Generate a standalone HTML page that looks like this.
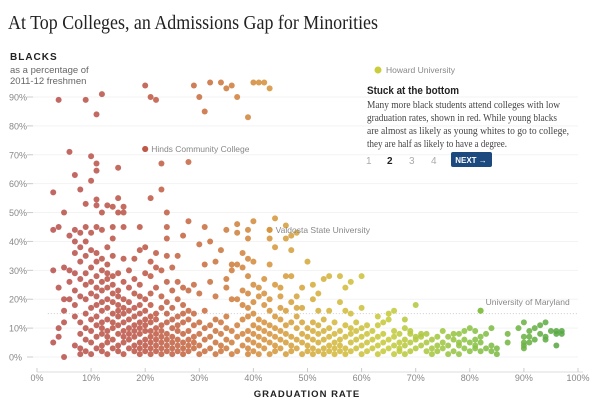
<!DOCTYPE html>
<html><head><meta charset="utf-8"><style>
body{margin:0;background:#fff;width:600px;height:415px;overflow:hidden;font-family:"Liberation Sans",sans-serif}
svg{position:absolute;left:0;top:0}
</style></head><body>
<svg width="600" height="415">
<text x="8" y="29" font-family="Liberation Serif,serif" font-size="20" textLength="370" lengthAdjust="spacingAndGlyphs" fill="#222">At Top Colleges, an Admissions Gap for Minorities</text>
<text x="10" y="60" font-size="10" font-weight="bold" letter-spacing="1" fill="#222">BLACKS</text>
<text x="10" y="73" font-size="9.5" fill="#666">as a percentage of</text>
<text x="10" y="84" font-size="9.5" fill="#666">2011-12 freshmen</text>
<g id="grid"></g><g id="dots"></g><g id="labels"></g>
<text x="307" y="397" text-anchor="middle" font-size="9.5" font-weight="bold" letter-spacing="1" fill="#222">GRADUATION RATE</text>
<circle cx="378" cy="70" r="3.5" fill="#c9cd3c"/>
<text x="386" y="73" font-size="8.5" fill="#888">Howard University</text>
<text x="367" y="94" font-size="11" font-weight="bold" textLength="92" lengthAdjust="spacingAndGlyphs" fill="#222">Stuck at the bottom</text>
<g font-family="Liberation Serif,serif" font-size="10.5" fill="#444" lengthAdjust="spacingAndGlyphs">
<text x="367" y="108" textLength="193" lengthAdjust="spacingAndGlyphs">Many more black students attend colleges with low</text>
<text x="367" y="121" textLength="190" lengthAdjust="spacingAndGlyphs">graduation rates, shown in red. While young blacks</text>
<text x="367" y="134" textLength="202" lengthAdjust="spacingAndGlyphs">are almost as likely as young whites to go to college,</text>
<text x="367" y="147" textLength="140" lengthAdjust="spacingAndGlyphs">they are half as likely to have a degree.</text></g>
<text x="366" y="164" font-size="10" fill="#aaa">1</text>
<text x="387" y="164" font-size="10" font-weight="bold" fill="#222">2</text>
<text x="409" y="164" font-size="10" fill="#aaa">3</text>
<text x="431" y="164" font-size="10" fill="#aaa">4</text>
<g><rect x="451" y="152" width="41" height="15" rx="2" fill="#1c4a7e"/>
<text x="471" y="163" text-anchor="middle" font-size="8" font-weight="bold" fill="#fff">NEXT →</text></g>
</svg>
<script>
const yTicks=[0,10,20,30,40,50,60,70,80,90];
const xTicks=[0,10,20,30,40,50,60,70,80,90,100];
const gradRates=[3,4,5,6,7,8,9,10,11,12,13,14,15,16,17,18,19,20,21,22,23,24,25,26,27,28,29,30,31,32,33,34,35,36,37,38,39,40,41,42,43,44,45,46,47,48,49,50,51,52,53,54,55,56,57,58,59,60,61,62,63,64,65,66,67,68,69,70,71,72,73,74,75,76,77,78,79,80,81,82,83,84,85,87,89,90,91,92,93,94,95,96,97];
const blackShares=[[5,30,44,57],[10,7,24,45,89],[0,16,20,12,31,50],[20,26,42,30,71],[4,14,18,23,29,36,40,63,44],[1,3,8,12,21,27,33,38,43,58],[2,6,10,15,20,25,29,35,40,45,53,89],[1,5,9,13,17,22,26,31,37,43,61,69.5],[3,7,11,14,18,21,24,28,33,36,45,52.5,54.5,64.5,67,84],[2,4,8,10,12,16,19,23,26,30,34,44,50,91],[1,5,7,9,13,17,20,24,27,29,32,38,52.5],[3,6,10,12,15,19,22,25,28,35,41,45,52],[2,4,8,11,14,16,18,21,23,29,50,55,65.5],[1,5,7,9,12,15,17,20,26,34,45,50,52],[3,6,8,10,13,16,19,24,30],[2,4,7,9,11,14,17,22,27,34],[1,3,5,8,10,12,15,18,21,25,37,45],[2,4,6,9,11,13,16,20,29,38,72,94],[1,3,5,7,9,12,14,18,22,28,33,55,90],[2,4,6,8,10,13,15,24,31,36,89],[1,3,5,7,9,11,17,21,30,58,67],[2,4,6,8,12,15,19,26,35,41,45,50],[1,3,5,7,10,13,17,23,31],[2,4,6,9,11,14,20,26,35],[1,3,5,8,12,15,18,24,42],[2,4,6,9,13,16,23,47,67.5],[3,5,7,11,15,25,94],[1,4,8,12,22,39,90],[2,6,10,16,32,45,85],[3,7,11,26,40,95],[1,5,9,13,21,33],[2,4,8,12,37,95],[3,6,10,14,24,27,44,93],[1,5,9,20,30,32,94],[2,7,11,20,32,43,46,90],[4,8,13,18,23,31,36],[1,3,6,9,14,17,22,28,34,41,44,83],[2,5,8,11,15,19,25,33,47,95],[1,4,7,10,13,21,24,95],[3,6,9,12,18,22,27,95],[1,5,8,11,16,20,32,41,44,93],[2,4,7,10,14,25,38,48],[3,6,9,13,17,21,24],[1,5,8,11,16,28,41,45.5],[2,4,7,12,19,28,37,42],[3,6,10,14,17,21,43],[1,5,8,12,17,24],[2,4,7,10,33],[1,3,6,9,12,20,25],[2,5,8,11,16,22],[1,3,6,9,13,27],[2,4,7,10,16,28],[1,3,5,8,12],[2,4,6,9,19,28],[1,3,7,11,16,24],[2,5,8,10,15,26],[3,6,9,12],[1,4,7,10,17,28],[2,5,8,11],[3,6,9],[1,4,7,11,14],[2,5,8,12],[3,6,13,15],[1,4,7,9,16],[2,3,5,8],[1,4,6,10,13],[2,5,8,9],[3,6,7,18],[4,7,8],[2,5,8],[1,3,6],[2,4,7],[3,5,9],[1,4,7],[2,6,8],[1,4,5,8],[3,6,9],[2,5,10],[3,4,6,9],[2,5,7,16],[3,8],[2,4,10],[1,3],[5,8],[10],[3,4,5,7,12],[5,7,9],[6,10],[8,11],[6,7,12],[9],[4,8,9],[8,9]];
const X0=37,X1=578,Y0=357,Y90=97;
const xs=v=>X0+(X1-X0)*v/100;
const ys=v=>Y0-(Y0-Y90)*v/90;
const stops=[[0,[183,82,80]],[20,[190,88,72]],[32,[202,114,64]],[42,[214,146,62]],[55,[212,184,62]],[65,[198,204,62]],[80,[140,195,70]],[97,[88,168,70]]];
function col(g){for(let i=1;i<stops.length;i++){if(g<=stops[i][0]){const a=stops[i-1],b=stops[i],t=(g-a[0])/(b[0]-a[0]);return 'rgb('+a[1].map((c,k)=>Math.round(c+(b[1][k]-c)*t)).join(',')+')';}}return 'rgb(88,168,70)';}
const NS='http://www.w3.org/2000/svg';
const grid=document.getElementById('grid'),dots=document.getElementById('dots'),labels=document.getElementById('labels');
function mk(tag,attrs,parent){const e=document.createElementNS(NS,tag);for(const k in attrs)e.setAttribute(k,attrs[k]);parent.appendChild(e);return e;}
yTicks.forEach(v=>{
 const l=mk('line',{x1:X0-10,x2:X1,y1:ys(v),y2:ys(v),stroke:'#f3f3f3'},grid);
 
 
 const t=mk('line',{x1:X0-10,x2:X0-4,y1:ys(v),y2:ys(v),stroke:'#ccc'},grid);
 
 
 const tx=mk('text',{x:9,y:ys(v)+3.5,'font-size':9,fill:'#888'},grid);tx.textContent=v+'%';
 
 
});
const ax=mk('line',{x1:X0,x2:X1+5,y1:372,y2:372,stroke:'#ddd'},grid);


xTicks.forEach(v=>{
 const t=mk('line',{x1:xs(v),x2:xs(v),y1:368,y2:372,stroke:'#ccc'},grid);
 
 
 const tx=mk('text',{x:xs(v),y:381,'font-size':9,fill:'#888','text-anchor':'middle'},grid);tx.textContent=v+'%';
 
 
});
const md=mk('line',{x1:xs(2),x2:X1,y1:ys(15),y2:ys(15),stroke:'#ccc','stroke-dasharray':'1,2'},grid);


gradRates.forEach((g,i)=>{blackShares[i].forEach(b=>{
 const c=mk('circle',{cx:xs(g),cy:ys(b),r:3,fill:col(g),'fill-opacity':0.88},dots);
 
 
});});
const ann=[['hinds-label','Hinds Community College',20,72],['valdosta-label','Valdosta State University',43,44],['maryland-label','University of Maryland',82,16]];
ann.forEach(a=>{
 const c=mk('circle',{cx:xs(a[2]),cy:ys(a[3]),r:3,fill:col(a[2])},labels);
 
 
 const isM=a[0]==='maryland-label';
 const t=mk('text',{x:isM?xs(a[2])+5:xs(a[2])+6,y:isM?ys(a[3])-6:ys(a[3])+3,'font-size':8.5,fill:'#888'},labels);t.textContent=a[1];
 
 
});
</script>
</body></html>
